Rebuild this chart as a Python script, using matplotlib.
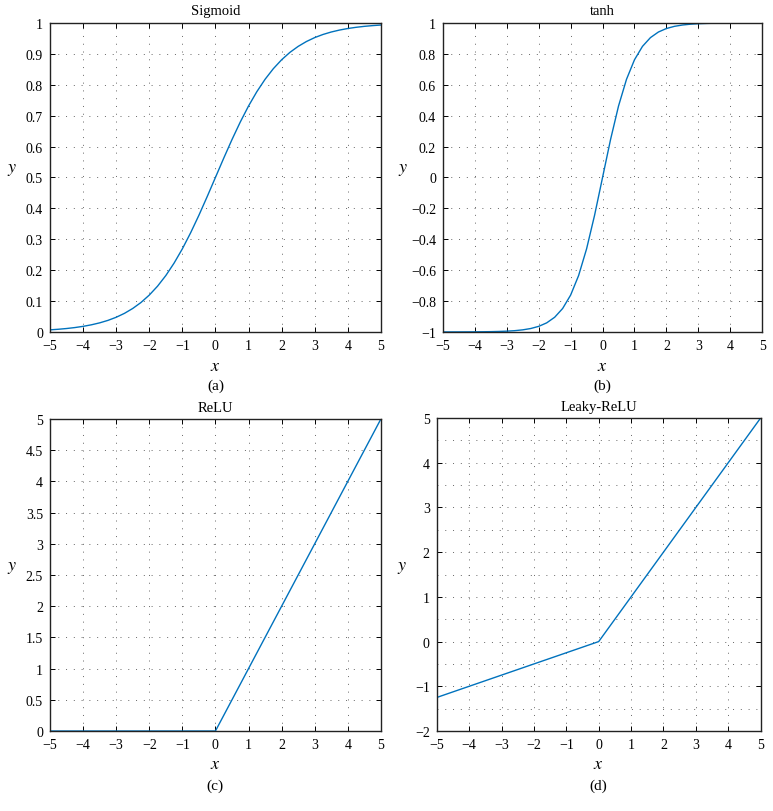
import matplotlib
matplotlib.use("Agg")
import matplotlib.pyplot as plt
from matplotlib.ticker import MultipleLocator, FuncFormatter

plt.rcParams['font.family'] = ['Liberation Serif', 'DejaVu Serif']
plt.rcParams['mathtext.fontset'] = 'stix'

# values
x_smooth = [-5, -4.75, -4.5, -4.25, -4, -3.75, -3.5, -3.25, -3, -2.75, -2.5,
            -2.25, -2, -1.75, -1.5, -1.25, -1, -0.75, -0.5, -0.25, 0,
            0.25, 0.5, 0.75, 1, 1.25, 1.5, 1.75, 2, 2.25, 2.5,
            2.75, 3, 3.25, 3.5, 3.75, 4, 4.25, 4.5, 4.75, 5]
sigmoid_y = [0.0067, 0.0086, 0.0110, 0.0141, 0.0180, 0.0230, 0.0293, 0.0373,
             0.0474, 0.0601, 0.0759, 0.0953, 0.1192, 0.1480, 0.1824, 0.2227,
             0.2689, 0.3208, 0.3775, 0.4378, 0.5000, 0.5622, 0.6225, 0.6792,
             0.7311, 0.7773, 0.8176, 0.8520, 0.8808, 0.9047, 0.9241, 0.9399,
             0.9526, 0.9627, 0.9707, 0.9770, 0.9820, 0.9859, 0.9890, 0.9914,
             0.9933]
tanh_y = [-0.9999, -0.9999, -0.9998, -0.9996, -0.9993, -0.9989, -0.9982,
          -0.9970, -0.9951, -0.9919, -0.9866, -0.9780, -0.9640, -0.9414,
          -0.9051, -0.8483, -0.7616, -0.6351, -0.4621, -0.2449, 0.0,
          0.2449, 0.4621, 0.6351, 0.7616, 0.8483, 0.9051, 0.9414, 0.9640,
          0.9780, 0.9866, 0.9919, 0.9951, 0.9970, 0.9982, 0.9989, 0.9993,
          0.9996, 0.9998, 0.9999, 0.9999]
x_piece = [-5, 0, 5]
relu_y = [0, 0, 5]
leaky_y = [-1.25, 0, 5]

line_color = '#0072BD'
grid_color = '#666666'


def fmt(v, pos):
    s = '{:g}'.format(round(v, 6))
    return s.replace('-', '\u2212')


def style(ax, title, tag, ylim, ystep, ygrid, ylab_x, title_y, xlab_y, tag_y):
    ax.set_xlim(-5, 5)
    ax.set_ylim(*ylim)
    ax.xaxis.set_major_locator(MultipleLocator(1))
    ax.yaxis.set_major_locator(MultipleLocator(ystep))
    ax.xaxis.set_major_formatter(FuncFormatter(fmt))
    ax.yaxis.set_major_formatter(FuncFormatter(fmt))
    dots = (0, (1, 7))
    if ygrid != ystep:
        ax.yaxis.set_minor_locator(MultipleLocator(ygrid))
        ax.grid(True, which='minor', axis='y', linestyle=dots,
                color=grid_color, linewidth=0.7)
    ax.grid(True, which='major', linestyle=dots, color=grid_color,
            linewidth=0.7)
    ax.tick_params(which='major', direction='in', top=True, right=True,
                   length=3.5, width=0.7, labelsize=10, pad=5)
    ax.tick_params(which='minor', length=0, top=False, right=False)
    for sp in ax.spines.values():
        sp.set_linewidth(1.0)
        sp.set_color('#222222')
    ax.text(0.5, title_y, title, transform=ax.transAxes, ha='center',
            va='center', fontsize=10.5)
    ax.set_ylabel('$y$', rotation=0, fontsize=13)
    ax.yaxis.set_label_coords(ylab_x, 0.5)
    ax.set_xlabel('$x$', fontsize=13)
    ax.xaxis.set_label_coords(0.5, xlab_y)
    ax.text(0.5, tag_y, tag, transform=ax.transAxes, ha='center',
            va='center', fontsize=11)


fig = plt.figure(figsize=(7.73, 8.12), dpi=100)

ax_a = fig.add_axes([0.0647, 0.590, 0.428, 0.3805])
ax_b = fig.add_axes([0.573, 0.590, 0.413, 0.3805])
ax_c = fig.add_axes([0.0647, 0.0985, 0.428, 0.3842])
ax_d = fig.add_axes([0.565, 0.0985, 0.419, 0.3855])

ax_a.plot(x_smooth, sigmoid_y, color=line_color, linewidth=1.0)
ax_b.plot(x_smooth, tanh_y, color=line_color, linewidth=1.0)
ax_c.plot(x_piece, relu_y, color=line_color, linewidth=1.0)
ax_d.plot(x_piece, leaky_y, color=line_color, linewidth=1.0)

style(ax_a, 'Sigmoid', '(a)', (0, 1), 0.1, 0.1, -0.115, 1.039, -0.081, -0.172)
style(ax_b, 'tanh', '(b)', (-1, 1), 0.2, 0.2, -0.125, 1.039, -0.081, -0.172)
style(ax_c, 'ReLU', '(c)', (0, 5), 0.5, 0.5, -0.115, 1.038, -0.077, -0.173)
style(ax_d, 'Leaky-ReLU', '(d)', (-2, 5), 1, 0.5, -0.108, 1.038, -0.077, -0.173)

fig.savefig('out.png', dpi=100)
